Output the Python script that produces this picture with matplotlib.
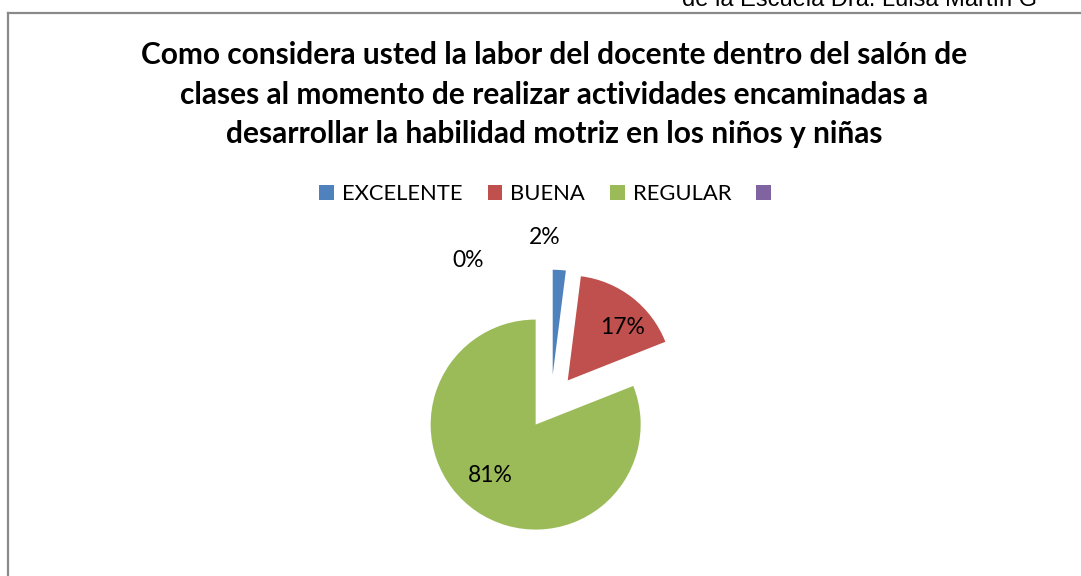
import matplotlib.pyplot as plt
from matplotlib.patches import Patch
from matplotlib.lines import Line2D
import numpy as np

# data
categories = ['EXCELENTE', 'BUENA', 'REGULAR', '']
values = [2, 17, 81, 0]
pct_labels = ['2%', '17%', '81%', '0%']
colors = ['#4F81BD', '#C0504D', '#9BBB59', '#8064A2']
title = ('Como considera usted la labor del docente dentro del salón de\n'
         'clases al momento de realizar actividades encaminadas a\n'
         'desarrollar la habilidad motriz en los niños y niñas')
header = 'de la Escuela Dra. Luisa Martín G'

plt.rcParams['font.family'] = ['Lato', 'DejaVu Sans']

W, H = 1081, 576
fig = plt.figure(figsize=(W / 100, H / 100), dpi=100)

# pie axes: data unit = radius in px
R = 105.0
cx, cy = 551, 402
ax = fig.add_axes([0, 0, 1, 1])

wedges, _ = ax.pie(values, colors=colors, startangle=90, counterclock=False,
                   explode=[0.26] * 4, radius=1, center=(0, 0),
                   wedgeprops=dict(linewidth=0))
ax.set_xlim(-cx / R, (W - cx) / R)
ax.set_ylim(-(H - cy) / R, cy / R)
ax.set_aspect('equal')
ax.axis('off')

# percent labels: radius and angle shift per slice
label_r = [1.57, 0.98, 0.905, 1.565]
label_shift = [5.7, -6, -5.6, 30.3]
for w, txt, r, sh in zip(wedges, pct_labels, label_r, label_shift):
    mid = np.deg2rad((w.theta1 + w.theta2) / 2 + sh)
    ax.text(r * np.cos(mid), r * np.sin(mid), txt, ha='center', va='center',
            fontsize=16.5, color='black')

fig.text(0.513, 1 - 95 / H, title, ha='center', va='center', fontsize=21.5,
         fontweight='bold', linespacing=1.5)

handles = [Patch(facecolor=c, edgecolor='none') for c in colors]
leg = fig.legend(handles, categories, loc='center', bbox_to_anchor=(0.508, 1 - 194 / H),
                 ncol=4, frameon=False, fontsize=15.8, handlelength=0.68, handleheight=0.68,
                 handletextpad=0.35, columnspacing=1.15)

fig.text(682 / W, 1 - 6.5 / H, header, ha='left', va='baseline', fontsize=17,
         family='Liberation Sans')

# chart frame
fig.add_artist(Line2D([8 / W, 1], [1 - 12.5 / H] * 2, color='#8a8a8a', lw=1.6))
fig.add_artist(Line2D([8 / W] * 2, [0, 1 - 12.5 / H], color='#8a8a8a', lw=1.6))

fig.savefig('out.png', dpi=100)
